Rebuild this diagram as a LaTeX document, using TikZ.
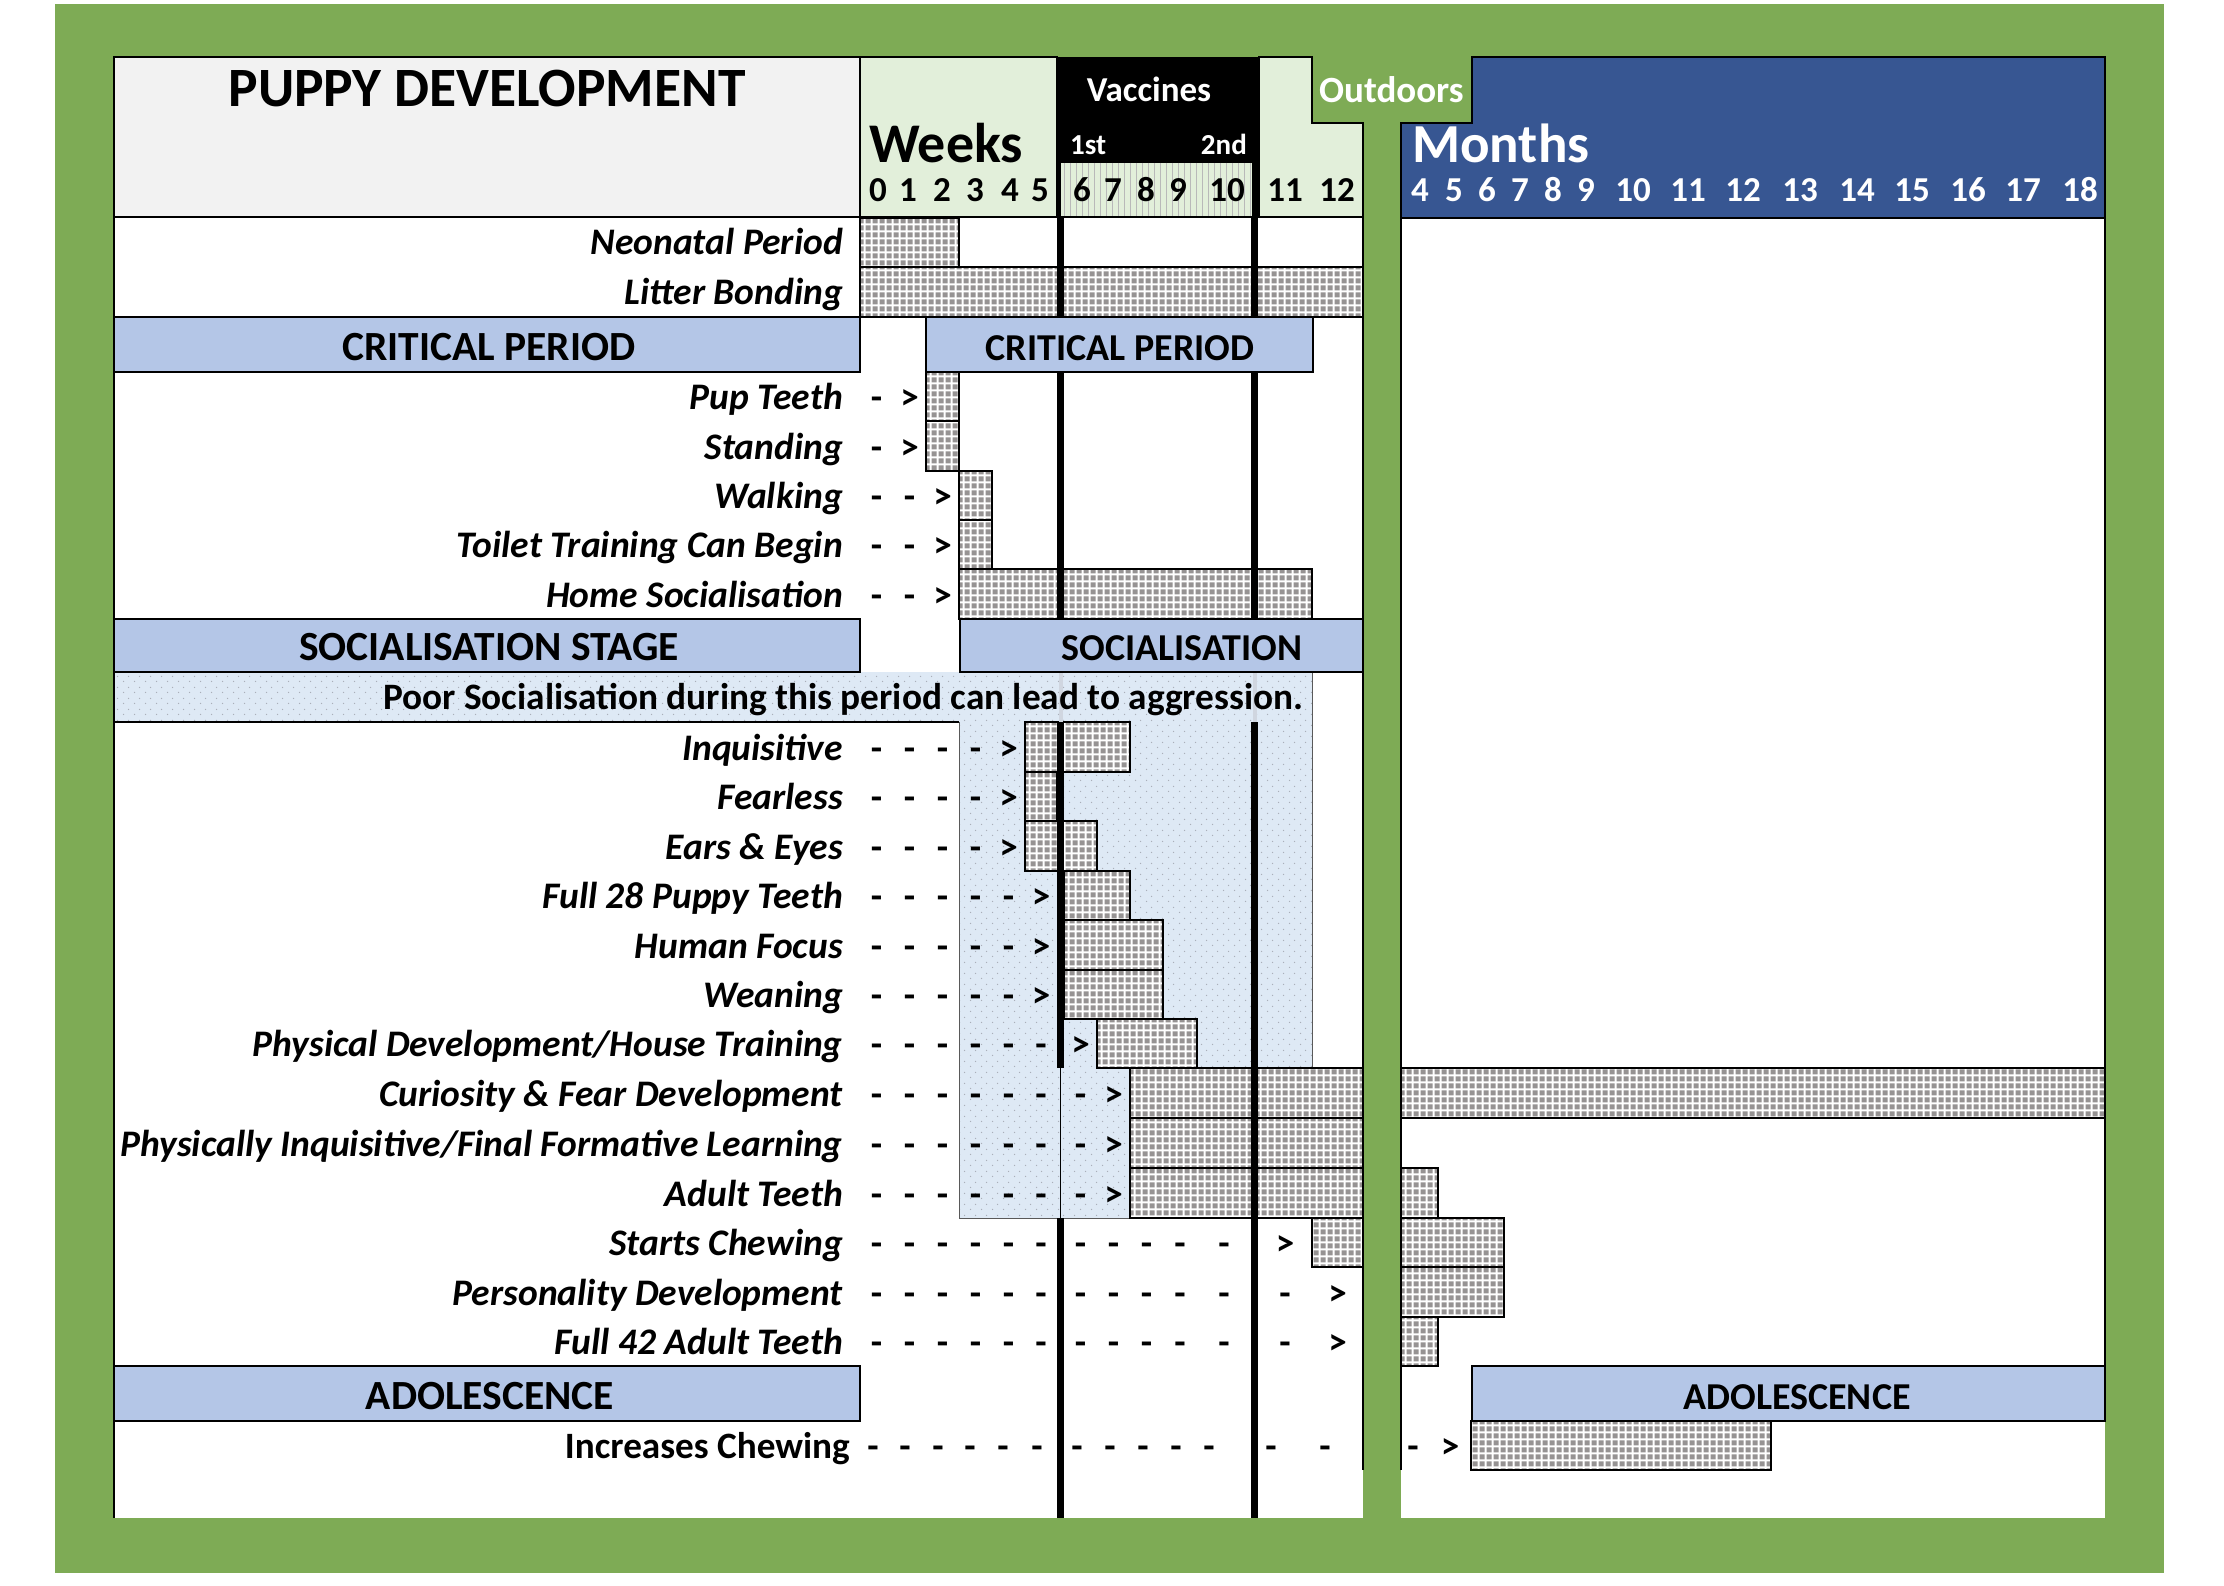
\documentclass[tikz,border=0pt]{standalone}
\usepackage{fontspec}
\setmainfont{Carlito}
\usetikzlibrary{patterns.meta}
\definecolor{bggreen}{RGB}{126,171,85}
\definecolor{hdrgreen}{RGB}{226,239,218}
\definecolor{titlegray}{RGB}{242,242,242}
\definecolor{hblue}{RGB}{180,198,231}
\definecolor{mblue}{RGB}{55,86,146}
\definecolor{dotblue}{RGB}{222,233,245}
\definecolor{barg}{RGB}{150,147,147}
\definecolor{dotg}{RGB}{170,175,185}
\newcommand\fsz[1]{\fontsize{#1pt}{#1pt}\selectfont}
\tikzdeclarepattern{
  name=cells,
  type=uncolored,
  bottom left={(0pt,0pt)},
  top right={(6.6pt,6.6pt)},
  tile size={(6.6pt,6.6pt)},
  code={\fill (0.7pt,0.7pt) rectangle (5.9pt,5.9pt);}
}
\tikzdeclarepattern{
  name=sdots,
  type=uncolored,
  bottom left={(0pt,0pt)},
  top right={(11pt,11pt)},
  tile size={(11pt,11pt)},
  code={\fill (2.75pt,2.75pt) circle (0.8pt); \fill (8.25pt,8.25pt) circle (0.8pt);}
}
\begin{document}
\begin{tikzpicture}[x=1pt,y=-1pt,
  bar/.style={draw=black, line width=1.6pt, preaction={fill=white}, preaction={pattern=cells, pattern color=barg}},
  box/.style={draw=black, line width=1.6pt},
  hbox/.style={box, fill=hblue},
  vline/.style={line width=7.5pt, black},
  lbl/.style={anchor=base east, inner sep=0pt, font=\fsz{37.5}\bfseries\itshape},
  dsh/.style={anchor=base, inner sep=0pt, font=\fsz{37}\bfseries},
  hdr/.style={anchor=base, inner sep=0pt, font=\fsz{41.5}\bfseries},
  hdrs/.style={anchor=base, inner sep=0pt, font=\fsz{38}\bfseries},
  wnum/.style={anchor=base, inner sep=0pt, font=\fsz{35}\bfseries},
  mnum/.style={anchor=base, inner sep=0pt, font=\fsz{35}\bfseries, text=white}
]
\useasboundingbox (0,0) rectangle (2224,1586);
\fill[white] (0,0) rectangle (2224,1586);
\fill[bggreen] (55,4) rectangle (2164,1573);
% white bodies
\fill[white] (114,217) rectangle (1363,1518);
\fill[white] (1401,218) rectangle (2105,1518);
% months header
\draw[box, fill=mblue] (1401,123) -- (1472,123) -- (1472,57) -- (2105,57) -- (2105,218) -- (1401,218) -- cycle;
% title and weeks header
\draw[box, fill=titlegray] (114,57) rectangle (860,217);
\draw[box, fill=hdrgreen] (860,57) rectangle (1057,217);
\fill[black] (1057,57) rectangle (1259,217);
\fill[hdrgreen] (1061,163) rectangle (1252,217);
\foreach \sx in {1064,1070,...,1250} \draw[gray!55, line width=0.8pt] (\sx,163) -- (\sx,217);
\draw[box, fill=hdrgreen] (1259,57) -- (1312,57) -- (1312,123) -- (1363,123) -- (1363,217) -- (1259,217) -- cycle;
\draw[box] (114,217) -- (1363,217);
% dotted socialisation region
\path[fill=dotblue] (114,672) -- (1312,672) -- (1312,1068) -- (1130,1068) -- (1130,1218) -- (959,1218) -- (959,722) -- (114,722) -- cycle;
\path[pattern=sdots, pattern color=dotg] (114,672) -- (1312,672) -- (1312,1068) -- (1130,1068) -- (1130,1218) -- (959,1218) -- (959,722) -- (114,722) -- cycle;
\draw[gray!70!black, line width=1pt] (1312,672) -- (1312,1068) (1130,1068) -- (1130,1218) -- (959,1218) -- (959,722);
\draw[box] (114,722) -- (959,722);
% bars
\foreach \xa/\xb/\ya/\yb in {860/959/218/267, 860/1363/267/317, 926/959/372/421, 926/959/421/471,
  959/992/471/520, 959/992/520/569, 959/1312/569/619, 1025/1130/722/772, 1025/1057/772/821,
  1025/1097/821/871, 1064/1130/871/920, 1064/1163/920/970, 1064/1163/970/1019, 1097/1197/1019/1068,
  1130/1363/1068/1118, 1130/1363/1118/1168, 1130/1363/1168/1218, 1312/1363/1218/1267,
  1401/2105/1068/1118, 1401/1438/1168/1218, 1401/1504/1218/1267, 1401/1504/1267/1317,
  1401/1438/1317/1366, 1471/1771/1421/1470}
  \draw[bar] (\xa,\ya) rectangle (\xb,\yb);
% vaccine lines
\draw[vline] (1060.5,217) -- (1060.5,672);
\draw[vline] (1060.5,722) -- (1060.5,1068);
\draw[black, line width=1.5pt] (1060.5,1068) -- (1060.5,1218);
\draw[vline] (1060.5,1218) -- (1060.5,1518);
\draw[vline] (1254.5,217) -- (1254.5,672);
\draw[vline] (1254.5,722) -- (1254.5,1518);
\draw[line width=4pt, color={rgb,255:red,208;green,214;blue,224}] (1060.5,672) -- (1060.5,722) (1254.5,672) -- (1254.5,722);
% section headers
\draw[hbox] (114,317) rectangle (860,372);
\draw[hbox] (926,317) rectangle (1313,372);
\draw[hbox] (114,619) rectangle (860,672);
\draw[hbox] (960,619) rectangle (1363,672);
\draw[hbox] (114,1366) rectangle (860,1421);
\draw[hbox] (1472,1366) rectangle (2105,1421);
% outer borders
\draw[box] (114,57) -- (114,1518);
\draw[box] (1363,123) -- (1363,1470);
\draw[box] (1401,123) -- (1401,1470);
\draw[box] (2105,57) -- (2105,1421);
% header texts
\node[anchor=base, inner sep=0pt, font=\fsz{55.5}\bfseries] (title) at (487,107) {PUPPY DEVELOPMENT};
\node[anchor=base west, inner sep=0pt, font=\fsz{56}\bfseries] (weeks) at (869,163) {Weeks};
\node[anchor=base west, inner sep=0pt, font=\fsz{55}\bfseries, text=white] (months) at (1412,163) {Months};
\node[anchor=base, inner sep=0pt, font=\fsz{35}\bfseries, text=white] (vacc) at (1149,102) {Vaccines};
\node[anchor=base west, inner sep=0pt, font=\fsz{29}\bfseries, text=white] (v1) at (1070,155) {1st};
\node[anchor=base east, inner sep=0pt, font=\fsz{29}\bfseries, text=white] (v2) at (1247,155) {2nd};
\node[anchor=base west, inner sep=0pt, font=\fsz{37}\bfseries, text=white] (outd) at (1319,103) {Outdoors};
\foreach \n/\wx in {0/878,1/908,2/942,3/975,4/1010,5/1040,6/1082,7/1113,8/1146,9/1178,10/1227,11/1285,12/1337}
  \node[wnum] (w\n) at (\wx,202) {\n};
\foreach \n/\mx in {4/1420,5/1454,6/1487,7/1520,8/1553,9/1586,10/1633,11/1688,12/1743,13/1800,14/1857,15/1912,16/1968,17/2023,18/2080}
  \node[mnum] (m\n) at (\mx,202) {\n};
\node[hdr] (cpl) at (489,360) {CRITICAL PERIOD};
\node[hdrs] (cpr) at (1120,360) {CRITICAL PERIOD};
\node[hdr] (ssl) at (489,660) {SOCIALISATION STAGE};
\node[hdrs] (ssr) at (1182,660) {SOCIALISATION};
\node[hdr] (adl) at (490,1409) {ADOLESCENCE};
\node[hdrs] (adr) at (1797,1409) {ADOLESCENCE};
\node[anchor=base west, inner sep=0pt, font=\fsz{37.3}\bfseries] (poor) at (383,709) {Poor Socialisation during this period can lead to aggression.};
% row labels
\node[lbl] (neo) at (843,255) {Neonatal Period};
\node[lbl] (lit) at (843,305) {Litter Bonding};
\foreach \b/\t/\a [count=\i] in {421/Pup Teeth/1, 471/Standing/1, 520/Walking/2, 569/Toilet Training Can Begin/2,
  619/Home Socialisation/2, 772/Inquisitive/4, 821/Fearless/4, 871/Ears \& Eyes/4, 920/Full 28 Puppy Teeth/5,
  970/Human Focus/5, 1019/Weaning/5, 1068/Physical Development\slash House Training/6,
  1118/Curiosity \& Fear Development/7, 1168/Physically Inquisitive\slash Final Formative Learning/7,
  1218/Adult Teeth/7, 1267/Starts Chewing/11, 1317/Personality Development/12, 1366/Full 42 Adult Teeth/12} {
  \node[lbl] (lab\i) at (843,\b-12) {\t};
  \pgfmathtruncatemacro\am{\a-1}
  \foreach \c in {0,...,\am} {
    \pgfmathsetmacro\xx{{876.5,909.5,942.5,975.5,1008.5,1041,1080.5,1113.5,1146.5,1180,1224,1285,1337.5}[\c]}
    \node[dsh] (d\i-\c) at (\xx,\b-12) {-};
  }
  \pgfmathsetmacro\xx{{876.5,909.5,942.5,975.5,1008.5,1041,1080.5,1113.5,1146.5,1180,1224,1285,1337.5}[\a]}
  \node[dsh] (g\i) at (\xx,\b-12) {>};
}
\node[anchor=base east, inner sep=0pt, font=\fsz{37.2}\bfseries] (inc) at (850,1458) {Increases Chewing};
\foreach \dx [count=\k] in {873,905,938,970,1003,1037,1077,1110,1143,1176,1209,1271,1325,1413}
  \node[dsh] (id\k) at (\dx,1458) {-};
\node[dsh] (ig) at (1450,1458) {>};
\end{tikzpicture}
\end{document}
